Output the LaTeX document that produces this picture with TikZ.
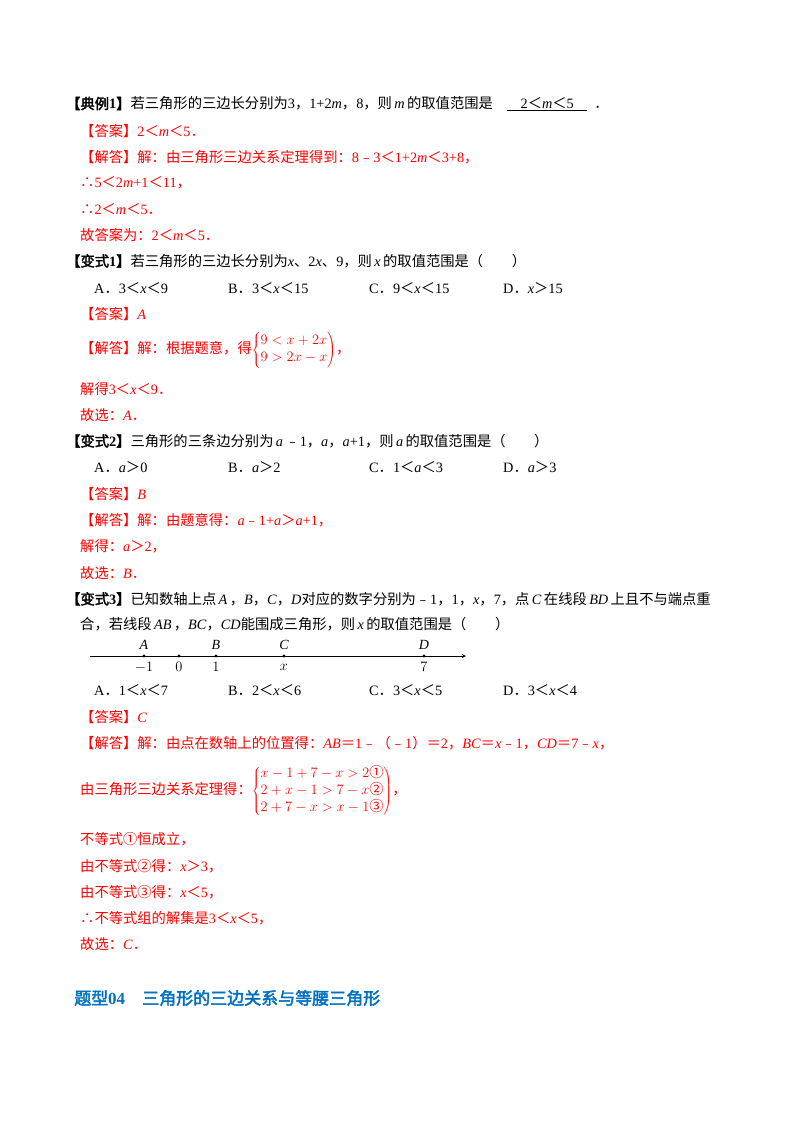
\documentclass[tikz,border=0pt]{standalone}
\usepackage{fontspec}
\setmainfont{Liberation Serif}
\newfontfamily\cjk[AutoFakeBold=2.5]{Noto Sans CJK SC}
\XeTeXinterchartokenstate=1
\newXeTeXintercharclass\cjkclass
\newcount\cc
\def\setrange#1#2{\cc=#1 \loop\XeTeXcharclass\cc=\cjkclass \ifnum\cc<#2 \advance\cc by 1 \repeat}
\setrange{"3000}{"303F}
\setrange{"4E00}{"9FFF}
\setrange{"FF00}{"FFEF}
\setrange{"FE30}{"FE6F}
\setrange{"2460}{"2473}
\XeTeXcharclass"2234=\cjkclass
\XeTeXinterchartoks 0 \cjkclass = {\cjk}
\XeTeXinterchartoks 4095 \cjkclass = {\cjk}
\XeTeXinterchartoks \cjkclass 0 = {\rmfamily}
\XeTeXinterchartoks \cjkclass 4095 = {\rmfamily}
\newcommand\iv[1]{\textit{#1}}
\newcommand\sv[1]{\,\textit{#1}\,}
\definecolor{ans}{RGB}{255,0,0}
\definecolor{ttl}{RGB}{0,112,192}
\tikzset{ln/.style={anchor=west,inner sep=0pt,font=\fontsize{14.3}{17}\selectfont},
  rd/.style={ln,text=ans}, pt/.style={circle,fill,inner sep=0pt,minimum size=3.4pt},
  nl/.style={inner sep=0pt,font=\fontsize{14}{16}\selectfont}}
\begin{document}
\begin{tikzpicture}[x=1pt,y=-1pt]
\useasboundingbox (0,0) rectangle (800,1132);
\node[ln] (l1) at (66,104) {{\bfseries 【典例1】}若三角形的三边长分别为3，1+2\iv{m}，8，则\sv{m}的取值范围是\quad\underline{\hbox to 80pt{\hfil 2＜\iv{m}＜5\hfil}}\ \ ．};
\node[rd] (l2) at (80,131) {【答案】2＜\iv{m}＜5．};
\node[rd] (l3) at (80,157) {【解答】解：由三角形三边关系定理得到：8﹣3＜1+2\iv{m}＜3+8，};
\node[rd] (l4) at (80,183) {∴5＜2\iv{m}+1＜11，};
\node[rd] (l5) at (80,209) {∴2＜\iv{m}＜5．};
\node[rd] (l6) at (80,235) {故答案为：2＜\iv{m}＜5．};
\node[ln] (l7) at (66,261) {{\bfseries 【变式1】}若三角形的三边长分别为\iv{x}、2\iv{x}、9，则\sv{x}的取值范围是（\quad\quad）};
\node[ln] (o1a) at (94,288) {A．3＜\iv{x}＜9};
\node[ln] (o1b) at (228,288) {B．3＜\iv{x}＜15};
\node[ln] (o1c) at (369,288) {C．9＜\iv{x}＜15};
\node[ln] (o1d) at (503,288) {D．\iv{x}＞15};
\node[rd] (l8) at (80,314) {【答案】\iv{A}};
\node[rd] (l9) at (80,350) {【解答】解：根据题意，得$\left\{\begin{array}{@{}l@{}}9<x+2x\\ 9>2x-x\end{array}\right)$，};
\node[rd] (l10) at (80,389) {解得3＜\iv{x}＜9．};
\node[rd] (l11) at (80,415) {故选：\iv{A}．};
\node[ln] (l12) at (66,441) {{\bfseries 【变式2】}三角形的三条边分别为\sv{a}﹣1，\iv{a}，\iv{a}+1，则\sv{a}的取值范围是（\quad\quad）};
\node[ln] (o2a) at (94,467) {A．\iv{a}＞0};
\node[ln] (o2b) at (228,467) {B．\iv{a}＞2};
\node[ln] (o2c) at (369,467) {C．1＜\iv{a}＜3};
\node[ln] (o2d) at (503,467) {D．\iv{a}＞3};
\node[rd] (l13) at (80,494) {【答案】\iv{B}};
\node[rd] (l14) at (80,520) {【解答】解：由题意得：\iv{a}﹣1+\iv{a}＞\iv{a}+1，};
\node[rd] (l15) at (80,546) {解得：\iv{a}＞2，};
\node[rd] (l16) at (80,573) {故选：\iv{B}．};
\node[ln] (l17) at (66,599) {{\bfseries 【变式3】}已知数轴上点\sv{A}，\iv{B}，\iv{C}，\iv{D}对应的数字分别为﹣1，1，\iv{x}，7，点\sv{C}在线段\sv{BD}上且不与端点重};
\node[ln] (l18) at (80,624) {合，若线段\sv{AB}，\iv{BC}，\iv{CD}能围成三角形，则\sv{x}的取值范围是（\quad\quad）};
% number line
\coordinate (s) at (90,656);
\coordinate (e) at (466,656);
\draw[line width=0.8pt,-stealth] (s) -- (e);
\foreach \n/\xx/\up/\dn in {pA/144/A/$-1$, p0/179//$0$, pB/216/B/$1$, pC/284/C/$x$, pD/424/D/$7$}{
  \node[pt] (\n) at (\xx,656) {};
  \node[nl,font=\fontsize{14}{16}\selectfont\itshape] at (\xx,645) {\up};
  \node[nl] at (\xx,667) {\dn};
}
\node[ln] (o3a) at (94,690) {A．1＜\iv{x}＜7};
\node[ln] (o3b) at (228,690) {B．2＜\iv{x}＜6};
\node[ln] (o3c) at (369,690) {C．3＜\iv{x}＜5};
\node[ln] (o3d) at (503,690) {D．3＜\iv{x}＜4};
\node[rd] (l19) at (80,717) {【答案】\iv{C}};
\node[rd] (l20) at (80,743) {【解答】解：由点在数轴上的位置得：\iv{AB}＝1﹣（﹣1）＝2，\iv{BC}＝\iv{x}﹣1，\iv{CD}＝7﹣\iv{x}，};
\node[rd] (l21) at (80,791) {由三角形三边关系定理得：$\left\{\begin{array}{@{}l@{}}x-1+7-x>2\mbox{①}\\ 2+x-1>7-x\mbox{②}\\ 2+7-x>x-1\mbox{③}\end{array}\right)$，};
\node[rd] (l22) at (80,839) {不等式①恒成立，};
\node[rd] (l23) at (80,866) {由不等式②得：\iv{x}＞3，};
\node[rd] (l24) at (80,892) {由不等式③得：\iv{x}＜5，};
\node[rd] (l25) at (80,918) {∴不等式组的解集是3＜\iv{x}＜5，};
\node[rd] (l26) at (80,944) {故选：\iv{C}．};
\node[anchor=west,inner sep=0pt,text=ttl,font=\fontsize{17}{20}\selectfont\bfseries] (t) at (74,998) {题型04\quad 三角形的三边关系与等腰三角形};
\end{tikzpicture}
\end{document}
